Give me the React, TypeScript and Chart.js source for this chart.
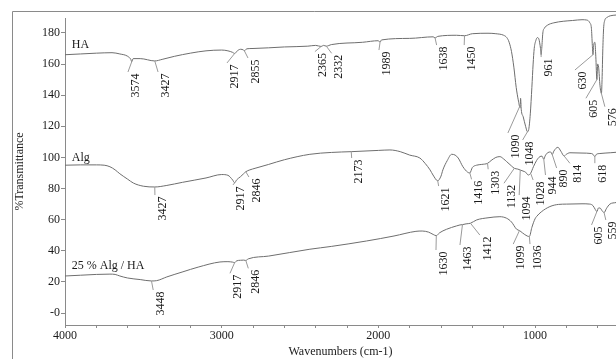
import React, { useEffect, useRef } from 'react';
import { Chart, registerables } from 'chart.js';

Chart.register(...registerables);

// ---------- data ----------
const haWavenumbers = [4000, 3900, 3800, 3700, 3650, 3600, 3580, 3574, 3565, 3520, 3427, 3380, 3300, 3200, 3100, 3000, 2960, 2930, 2917, 2900, 2880, 2860, 2855, 2840, 2800, 2600, 2450, 2400, 2365, 2350, 2332, 2300, 2100, 2000, 1989, 1980, 1800, 1650, 1638, 1620, 1500, 1450, 1400, 1300, 1250, 1200, 1180, 1165, 1150, 1135, 1120, 1107, 1095, 1092, 1088, 1075, 1060, 1048, 1040, 1030, 1020, 1012, 1005, 995, 985, 975, 965, 961, 957, 950, 940, 920, 880, 820, 760, 700, 670, 650, 640, 634, 630, 626, 618, 612, 605, 600, 594, 585, 576, 572, 567, 562, 555, 540, 520, 483];
const haValues = [166, 166.5, 167, 167.3, 166.5, 165, 163, 161.5, 163.5, 163.5, 162, 163, 165, 167, 168.5, 169, 168.5, 167.5, 166.8, 168.5, 169.5, 169, 168.5, 169.8, 170, 171, 171.5, 172, 171.3, 172, 171.5, 172.5, 174, 175, 174, 175.5, 176.5, 177.5, 176.8, 177.8, 178.5, 178.2, 179.5, 179.8, 179.5, 178.5, 177, 174, 168, 158, 145, 137, 132, 138, 131, 126, 120, 116.5, 118, 128, 145, 160, 170, 175, 177, 176, 170, 166, 170, 180, 183, 185, 186.5, 187.5, 188, 188.5, 188.3, 186.5, 183, 172, 166, 172, 174, 165, 150, 160, 158, 146, 141, 150, 170, 183, 188, 190, 191, 191.5];

const algWavenumbers = [4000, 3900, 3800, 3750, 3713, 3680, 3650, 3600, 3563, 3500, 3427, 3350, 3250, 3100, 3000, 2960, 2930, 2917, 2905, 2880, 2860, 2846, 2820, 2787, 2700, 2600, 2437, 2300, 2173, 2000, 1926, 1860, 1800, 1735, 1700, 1670, 1651, 1621, 1600, 1588, 1560, 1532, 1510, 1490, 1460, 1430, 1416, 1400, 1373, 1340, 1303, 1280, 1250, 1224, 1200, 1181, 1150, 1132, 1110, 1094, 1070, 1060, 1043, 1028, 1010, 990, 969, 955, 944, 935, 918, 900, 890, 880, 854, 835, 814, 800, 777, 700, 640, 630, 618, 608, 586, 520, 483];
const algValues = [95, 95.2, 95.2, 95, 94, 92, 89.5, 86, 83.5, 81.5, 81, 82, 84, 86.8, 89, 88.5, 85.5, 83.7, 85.5, 87.6, 89.5, 90.8, 92, 93, 95.5, 98.5, 102, 103.2, 103.7, 104.5, 104.8, 103.7, 101.5, 99.6, 96, 92, 88.7, 85, 88, 92, 98, 102, 101.5, 99.6, 94, 90.5, 90, 93.5, 95, 95.5, 96.2, 98, 100, 100.5, 99, 97.3, 94.5, 93, 92.5, 91.9, 91, 90.5, 88.7, 89.8, 94, 98, 100.5, 100.8, 98.8, 101, 103.1, 103.5, 101.8, 104, 106.5, 104, 100.9, 102, 103, 102.8, 102.5, 102, 100.5, 102, 102.5, 103, 103.3];

const mixWavenumbers = [4000, 3900, 3800, 3713, 3680, 3650, 3600, 3520, 3448, 3415, 3350, 3247, 3150, 3011, 2960, 2930, 2917, 2905, 2880, 2860, 2846, 2830, 2700, 2437, 2300, 2075, 1900, 1760, 1720, 1680, 1650, 1630, 1610, 1565, 1500, 1479, 1463, 1440, 1412, 1373, 1300, 1224, 1181, 1150, 1117, 1099, 1080, 1050, 1036, 1020, 1000, 990, 960, 905, 850, 798, 700, 650, 630, 615, 605, 595, 586, 570, 559, 545, 522, 483];
const mixValues = [23.8, 24.3, 24.8, 25, 24.8, 23.8, 22.5, 21.5, 20.6, 20.8, 23.2, 26.5, 29.5, 32.8, 33, 32.7, 32.4, 33.5, 33.9, 34, 33.8, 34.8, 36.6, 41, 42.8, 46.3, 49.5, 52.5, 52.7, 52, 50.5, 49.7, 51.5, 53.8, 56, 56.6, 56.8, 57.3, 57.7, 59.8, 61.2, 61.9, 60.9, 58.5, 53.8, 53, 51.5, 49.5, 49.2, 55, 60.5, 62, 65, 68.4, 69.8, 70, 70.2, 70, 69, 66.5, 65.2, 67.5, 67.5, 65.5, 64.5, 67, 70, 71];

const seriesNames = ['HA', 'Alg', '25 % Alg / HA'];
const xTickValues = [4000, 3800, 3600, 3400, 3200, 3000, 2800, 2600, 2400, 2200, 2000, 1800, 1600, 1400, 1200, 1000, 800, 600];
const yTickValues = [0, 20, 40, 60, 80, 100, 120, 140, 160, 180];

// peak annotations: label text (= wavenumber) and which series it belongs to
const peakLabels = [
  '3574', '3427', '2917', '2855', '2365', '2332', '1989', '1638', '1450', '1090', '1048', '961', '630', '605', '576',
  '3427', '2917', '2846', '2173', '1621', '1416', '1303', '1132', '1094', '1028', '944', '890', '814', '618',
  '3448', '2917', '2846', '1630', '1463', '1412', '1099', '1036', '605', '559',
];
const peakSeries = [
  0, 0, 0, 0, 0, 0, 0, 0, 0, 0, 0, 0, 0, 0, 0,
  1, 1, 1, 1, 1, 1, 1, 1, 1, 1, 1, 1, 1, 1,
  2, 2, 2, 2, 2, 2, 2, 2, 2, 2,
];

// layout of the leader lines (end point, in axis units)
const leaderEnds: [number, number][] = [
  [3598, 154.9], [3406, 154.9], [2966, 160.7], [2832, 163.9], [2405, 168], [2298, 166.9], [1996, 169], [1628, 172.2], [1452, 172.2], [1173, 115.7], [1079, 111.2], [961, 164.5], [745, 156.2], [675, 138], [554, 132.6],
  [3426, 75.8], [2928, 82.3], [2826, 87.4], [2170, 99.6], [1615, 81.6], [1405, 85.9], [1299, 92.4], [1198, 83.4], [1101, 75.8], [1012, 85.5], [933, 88.7], [862, 93.2], [777, 96.2], [618, 96.3],
  [3437, 14.8], [2947, 25.5], [2830, 28.7], [1632, 40.5], [1479, 43.7], [1352, 50.1], [1139, 44.3], [1032, 44.3], [639, 56.6], [548, 59.8],
];
const seriesNamePos: [number, number][] = [[3957, 170.3], [3957, 98], [3957, 28.3]];

const allW = [haWavenumbers, algWavenumbers, mixWavenumbers];
const allV = [haValues, algValues, mixValues];

function interp(ws: number[], vs: number[], w: number) {
  for (let i = 0; i < ws.length - 1; i++) {
    const a = ws[i], b = ws[i + 1];
    if ((w <= a && w >= b) || (w >= a && w <= b)) {
      const t = (w - a) / (b - a || 1);
      return vs[i] + t * (vs[i + 1] - vs[i]);
    }
  }
  return vs[vs.length - 1];
}

const FONT = '"Liberation Serif", "Times New Roman", serif';

const annotPlugin = {
  id: 'ftirAnnot',
  beforeDraw(chart: any) {
    const ctx = chart.ctx;
    ctx.save();
    ctx.strokeStyle = '#8a8a8a';
    ctx.lineWidth = 1;
    ctx.beginPath();
    ctx.moveTo(12.5, 359);
    ctx.lineTo(12.5, 11.5);
    ctx.lineTo(616, 11.5);
    ctx.stroke();
    ctx.restore();
  },
  afterDatasetsDraw(chart: any) {
    const ctx = chart.ctx;
    const xs = chart.scales.x;
    const ys = chart.scales.y;
    ctx.save();
    // series names
    ctx.fillStyle = '#1a1a1a';
    ctx.font = `12px ${FONT}`;
    ctx.textAlign = 'left';
    ctx.textBaseline = 'alphabetic';
    seriesNames.forEach((n, i) => {
      ctx.fillText(n, xs.getPixelForValue(seriesNamePos[i][0]), ys.getPixelForValue(seriesNamePos[i][1]));
    });
    // peak labels
    peakLabels.forEach((lab, i) => {
      const s = peakSeries[i];
      const w = parseFloat(lab);
      const v = interp(allW[s], allV[s], w);
      const x0 = xs.getPixelForValue(w);
      const y0 = ys.getPixelForValue(v);
      const x1 = xs.getPixelForValue(leaderEnds[i][0]);
      const y1 = ys.getPixelForValue(leaderEnds[i][1]);
      ctx.strokeStyle = '#9a9a9a';
      ctx.lineWidth = 1;
      ctx.beginPath();
      ctx.moveTo(x0, y0);
      ctx.lineTo(x1, y1);
      ctx.stroke();
      ctx.save();
      ctx.translate(x1 + 7.5, y1 + 1.5);
      ctx.rotate(-Math.PI / 2);
      ctx.fillStyle = '#1a1a1a';
      ctx.font = `12px ${FONT}`;
      ctx.textAlign = 'right';
      ctx.textBaseline = 'middle';
      ctx.fillText(lab, 0, 0);
      ctx.restore();
    });
    ctx.restore();
  },
};

export default function App() {
  const ref = useRef<HTMLCanvasElement | null>(null);
  useEffect(() => {
    if (!ref.current) return;
    const mk = (ws: number[], vs: number[]) => ws.map((w, i) => ({ x: w, y: vs[i] }));
    const ds = (data: any) => ({
      data,
      borderColor: '#6e6e6e',
      borderWidth: 1,
      pointRadius: 0,
      fill: false,
      cubicInterpolationMode: 'monotone' as const,
      clip: false as any,
    });
    const chart = new Chart(ref.current, {
      type: 'line',
      data: {
        datasets: [
          ds(mk(haWavenumbers, haValues)),
          ds(mk(algWavenumbers, algValues)),
          ds(mk(mixWavenumbers, mixValues)),
        ],
      },
      options: {
        animation: false,
        responsive: false,
        devicePixelRatio: 1,
        layout: { padding: { top: 18, left: 0, right: 0, bottom: 0 } },
        plugins: { legend: { display: false }, tooltip: { enabled: false } },
        scales: {
          x: {
            type: 'linear',
            reverse: true,
            min: 483,
            max: 4000,
            afterBuildTicks: (s: any) => { s.ticks = xTickValues.map((v) => ({ value: v })); },
            afterFit: (s: any) => { s.height = 34; },
            ticks: {
              autoSkip: false,
              maxRotation: 0,
              padding: 1,
              color: '#1a1a1a',
              font: { family: FONT, size: 12 },
              callback: (v: any) => (Number(v) % 1000 === 0 ? String(v) : ''),
            },
            grid: { drawOnChartArea: false, tickLength: 3, color: '#8a8a8a' },
            border: { color: '#8a8a8a' },
            title: {
              display: true,
              text: 'Wavenumbers (cm-1)',
              color: '#1a1a1a',
              font: { family: FONT, size: 12 },
              padding: { top: 0, bottom: 0 },
            },
          },
          y: {
            type: 'linear',
            min: -7.7,
            max: 189.6,
            afterBuildTicks: (s: any) => { s.ticks = yTickValues.map((v) => ({ value: v })); },
            afterFit: (s: any) => { s.width = 65; },
            ticks: {
              padding: 1,
              color: '#1a1a1a',
              font: { family: FONT, size: 12 },
              callback: (v: any) => (Number(v) === 0 ? '-0' : String(v)),
            },
            grid: { drawOnChartArea: false, tickLength: 4, color: '#8a8a8a' },
            border: { color: '#8a8a8a' },
            title: {
              display: true,
              text: '%Transmittance',
              color: '#1a1a1a',
              font: { family: FONT, size: 12 },
              padding: { top: 13, bottom: 0 },
            },
          },
        },
      },
      plugins: [annotPlugin],
    });
    return () => chart.destroy();
  }, []);
  return (
    <div style={{ position: 'absolute', left: 0, top: 0, width: 616, height: 359, background: '#fff' }}>
      <canvas ref={ref} width={616} height={359} />
    </div>
  );
}
